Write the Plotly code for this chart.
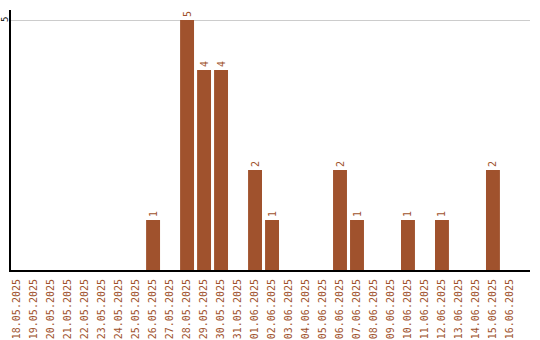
import plotly.graph_objects as go

dates = ["18.05.2025","19.05.2025","20.05.2025","21.05.2025","22.05.2025","23.05.2025",
         "24.05.2025","25.05.2025","26.05.2025","27.05.2025","28.05.2025","29.05.2025",
         "30.05.2025","31.05.2025","01.06.2025","02.06.2025","03.06.2025","04.06.2025",
         "05.06.2025","06.06.2025","07.06.2025","08.06.2025","09.06.2025","10.06.2025",
         "11.06.2025","12.06.2025","13.06.2025","14.06.2025","15.06.2025","16.06.2025"]
counts = [0,0,0,0,0,0,0,0,1,0,5,4,4,0,2,1,0,0,0,2,1,0,0,1,0,1,0,0,2,0]
y_ticks = [5]

color = "#A0522D"
labels = [str(v) if v > 0 else "" for v in counts]

fig = go.Figure(go.Bar(
    x=dates, y=counts, marker_color=color, marker_line_width=0,
    text=labels, textposition="outside", textangle=-90,
    textfont=dict(family="DejaVu Sans Mono", size=10, color=color),
    cliponaxis=False,
))
fig.update_layout(
    width=540, height=340, margin=dict(l=11, r=10, t=10, b=70),
    plot_bgcolor="white", paper_bgcolor="white", showlegend=False, bargap=0.18,
    font=dict(family="DejaVu Sans Mono"),
)
for v in y_ticks:
    fig.add_annotation(x=0, xref="paper", y=v, yref="y", text=str(v), showarrow=False,
                       textangle=-90, xanchor="center", yanchor="middle", xshift=-6,
                       borderpad=0,
                       font=dict(family="DejaVu Sans Mono", size=9, color="black"))
fig.update_xaxes(type="category", range=[-0.36, 30.18], tickangle=-90,
                 tickfont=dict(size=10, color=color), showgrid=False, automargin=False,
                 showline=True, linecolor="black", linewidth=2,
                 ticks="outside", ticklen=3, tickcolor="white")
fig.update_yaxes(range=[0, 5.2], tickvals=y_ticks, showticklabels=False,
                 showgrid=True, gridcolor="#cccccc",
                 gridwidth=1, showline=True, linecolor="black", linewidth=2,
                 zeroline=False, ticks="", automargin=False)
fig.write_html("out.html")
